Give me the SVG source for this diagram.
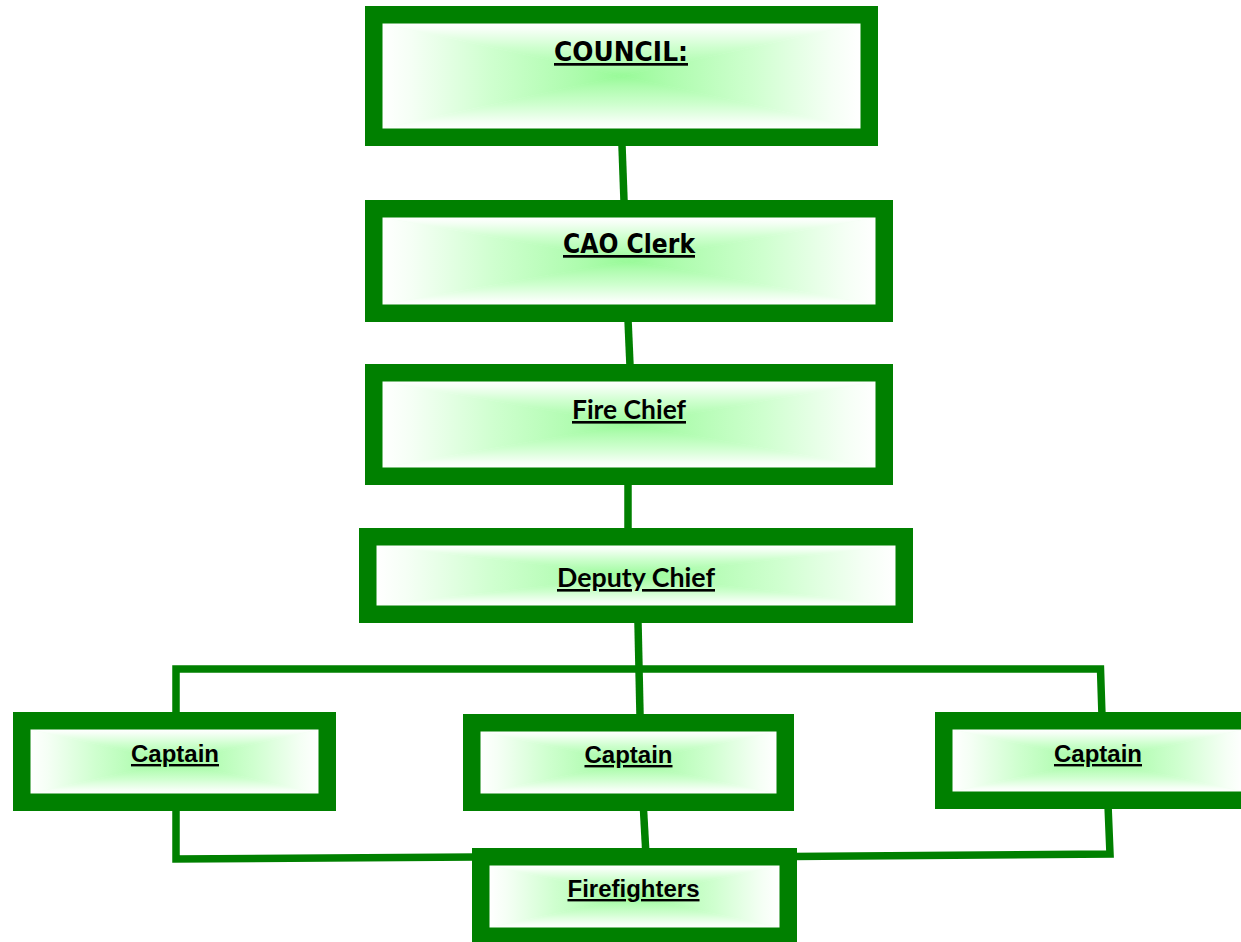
<svg xmlns="http://www.w3.org/2000/svg" xmlns:xlink="http://www.w3.org/1999/xlink" width="1241" height="942" viewBox="0 0 1241 942">
<defs>
<linearGradient id="gT" x1="0" y1="0" x2="0" y2="1">
<stop offset="0" stop-color="#ffffff"/>
<stop offset="0.12" stop-color="#f5fff5"/>
<stop offset="0.45" stop-color="#cfffcf"/>
<stop offset="0.8" stop-color="#aefcae"/>
<stop offset="1" stop-color="#98fa98"/>
</linearGradient>
<linearGradient id="gB" href="#gT" xlink:href="#gT" x1="0" y1="1" x2="0" y2="0"/>
<linearGradient id="gL" href="#gT" xlink:href="#gT" x1="0" y1="0" x2="1" y2="0"/>
<linearGradient id="gR" href="#gT" xlink:href="#gT" x1="1" y1="0" x2="0" y2="0"/>
<radialGradient id="gBase" cx="0.5" cy="0.5" r="0.5">
<stop offset="0" stop-color="#a5fba5"/>
<stop offset="1" stop-color="#f0fff0"/>
</radialGradient>
</defs>
<style>
.box{fill:none;stroke:#008000;stroke-width:17.5}
.base{fill:url(#gBase)}
.t{fill:url(#gT)}
.b{fill:url(#gB)}
.l{fill:url(#gL)}
.r{fill:url(#gR)}
.conn{fill:none;stroke:#008000;stroke-width:7.5;stroke-linejoin:miter}
.tv{font-family:"DejaVu Sans",Verdana,sans-serif;font-weight:bold;font-size:27px;fill:#000;text-decoration:underline;text-anchor:middle}
.tc{font-family:Lato,"Open Sans",sans-serif;font-weight:bold;font-size:26px;fill:#000;text-decoration:underline;text-anchor:middle}
.ta{font-family:"Liberation Sans",Arial,sans-serif;font-weight:bold;font-size:24px;fill:#000;text-decoration:underline;text-anchor:middle}
</style>
<rect x="0" y="0" width="1241" height="942" fill="#ffffff"/>
<g id="connectors">
<line class="conn" x1="621.8" y1="140" x2="624.2" y2="206"/>
<line class="conn" x1="627.8" y1="315" x2="630.2" y2="370"/>
<line class="conn" x1="628" y1="480" x2="628" y2="533"/>
<line class="conn" x1="637.9" y1="618" x2="640.1" y2="719"/>
<path class="conn" d="M176,716 L176,669 L1100.5,669 L1102,716"/>
<path class="conn" d="M176,806 L176,859 L476,857"/>
<path class="conn" d="M1108,805 L1110,854 L792,856.5"/>
<line class="conn" x1="643.3" y1="806" x2="645.8" y2="852"/>
</g>
<g id="council">
<rect class="base" x="382.5" y="23.5" width="478" height="105"/>
<polygon class="t" points="382.5,23.5 860.5,23.5 621.5,76"/>
<polygon class="b" points="382.5,128.5 860.5,128.5 621.5,76"/>
<polygon class="l" points="382.5,23.5 382.5,128.5 621.5,76"/>
<polygon class="r" points="860.5,23.5 860.5,128.5 621.5,76"/>
<rect class="box" x="373.75" y="14.75" width="495.5" height="122.5"/>
<text class="tv" x="621" y="61" textLength="134" lengthAdjust="spacingAndGlyphs">COUNCIL:</text>
</g>
<g id="cao-clerk">
<rect class="base" x="382.5" y="217.5" width="493" height="87"/>
<polygon class="t" points="382.5,217.5 875.5,217.5 629,261"/>
<polygon class="b" points="382.5,304.5 875.5,304.5 629,261"/>
<polygon class="l" points="382.5,217.5 382.5,304.5 629,261"/>
<polygon class="r" points="875.5,217.5 875.5,304.5 629,261"/>
<rect class="box" x="373.75" y="208.75" width="510.5" height="104.5"/>
<text class="tv" x="629" y="253" textLength="132" lengthAdjust="spacingAndGlyphs">CAO Clerk</text>
</g>
<g id="fire-chief">
<rect class="base" x="382.5" y="381.5" width="493" height="86"/>
<polygon class="t" points="382.5,381.5 875.5,381.5 629,424.5"/>
<polygon class="b" points="382.5,467.5 875.5,467.5 629,424.5"/>
<polygon class="l" points="382.5,381.5 382.5,467.5 629,424.5"/>
<polygon class="r" points="875.5,381.5 875.5,467.5 629,424.5"/>
<rect class="box" x="373.75" y="372.75" width="510.5" height="103.5"/>
<text class="tc" x="629" y="419" textLength="114" lengthAdjust="spacingAndGlyphs">Fire Chief</text>
</g>
<g id="deputy-chief">
<rect class="base" x="376.5" y="545.5" width="519" height="60"/>
<polygon class="t" points="376.5,545.5 895.5,545.5 636,575.5"/>
<polygon class="b" points="376.5,605.5 895.5,605.5 636,575.5"/>
<polygon class="l" points="376.5,545.5 376.5,605.5 636,575.5"/>
<polygon class="r" points="895.5,545.5 895.5,605.5 636,575.5"/>
<rect class="box" x="367.75" y="536.75" width="536.5" height="77.5"/>
<text class="tc" x="636" y="587" textLength="158" lengthAdjust="spacingAndGlyphs">Deputy Chief</text>
</g>
<g id="captain-left">
<rect class="base" x="30.5" y="729.5" width="288" height="64"/>
<polygon class="t" points="30.5,729.5 318.5,729.5 174.5,761.5"/>
<polygon class="b" points="30.5,793.5 318.5,793.5 174.5,761.5"/>
<polygon class="l" points="30.5,729.5 30.5,793.5 174.5,761.5"/>
<polygon class="r" points="318.5,729.5 318.5,793.5 174.5,761.5"/>
<rect class="box" x="21.75" y="720.75" width="305.5" height="81.5"/>
<text class="ta" x="175" y="762">Captain</text>
</g>
<g id="captain-middle">
<rect class="base" x="480.5" y="731.5" width="296" height="62"/>
<polygon class="t" points="480.5,731.5 776.5,731.5 628.5,762.5"/>
<polygon class="b" points="480.5,793.5 776.5,793.5 628.5,762.5"/>
<polygon class="l" points="480.5,731.5 480.5,793.5 628.5,762.5"/>
<polygon class="r" points="776.5,731.5 776.5,793.5 628.5,762.5"/>
<rect class="box" x="471.75" y="722.75" width="313.5" height="79.5"/>
<text class="ta" x="628.5" y="763">Captain</text>
</g>
<g id="captain-right">
<rect class="base" x="952.5" y="729.5" width="291" height="62"/>
<polygon class="t" points="952.5,729.5 1243.5,729.5 1098,760.5"/>
<polygon class="b" points="952.5,791.5 1243.5,791.5 1098,760.5"/>
<polygon class="l" points="952.5,729.5 952.5,791.5 1098,760.5"/>
<polygon class="r" points="1243.5,729.5 1243.5,791.5 1098,760.5"/>
<rect class="box" x="943.75" y="720.75" width="308.5" height="79.5"/>
<text class="ta" x="1098" y="762">Captain</text>
</g>
<g id="firefighters">
<rect class="base" x="489.5" y="865.5" width="290" height="62"/>
<polygon class="t" points="489.5,865.5 779.5,865.5 634.5,896.5"/>
<polygon class="b" points="489.5,927.5 779.5,927.5 634.5,896.5"/>
<polygon class="l" points="489.5,865.5 489.5,927.5 634.5,896.5"/>
<polygon class="r" points="779.5,865.5 779.5,927.5 634.5,896.5"/>
<rect class="box" x="480.75" y="856.75" width="307.5" height="79.5"/>
<text class="ta" x="633.5" y="897">Firefighters</text>
</g>
</svg>
